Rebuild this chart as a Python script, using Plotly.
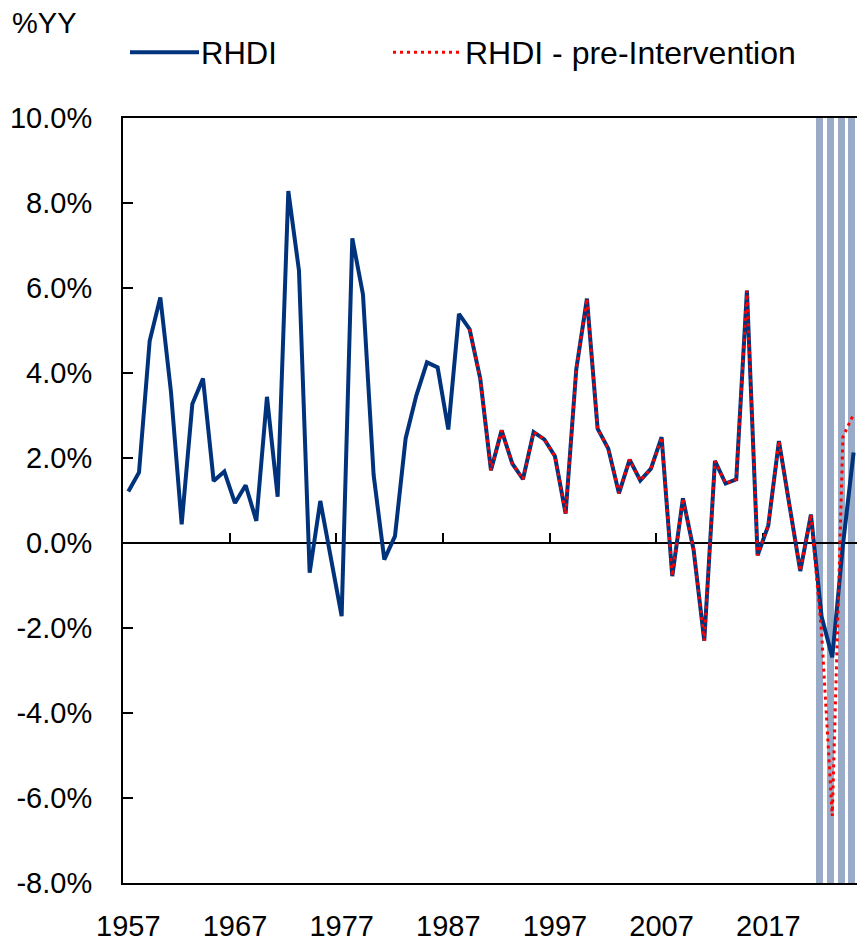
import plotly.graph_objects as go

# ── Data ─────────────────────────────────────────────────────────────────────
years = list(range(1957, 2026))
rhdi = [
    1.21, 1.66, 4.75, 5.78, 3.55, 0.44, 3.27, 3.87, 1.46, 1.68,   # 1957-1966
    0.94, 1.36, 0.52, 3.44, 1.09, 8.28, 6.41, -0.70, 0.99, -0.35,  # 1967-1976
    -1.72, 7.17, 5.85, 1.60, -0.39, 0.16, 2.46, 3.47, 4.25, 4.13,  # 1977-1986
    2.67, 5.39, 5.03, 3.86, 1.71, 2.65, 1.87, 1.50, 2.61, 2.44,    # 1987-1996
    2.04, 0.69, 4.09, 5.75, 2.69, 2.22, 1.17, 1.96, 1.47, 1.75,    # 1997-2006
    2.49, -0.78, 1.05, -0.16, -2.30, 1.93, 1.40, 1.50, 5.94, -0.29,  # 2007-2016
    0.41, 2.40, 0.85, -0.66, 0.67, -1.73, -2.69, -0.05, 2.13,      # 2017-2025
]
rhdi_pre = [None] * 32 + rhdi[32:65] + [-2.10, -6.42, 2.50, 3.03]
shaded_years = [2022, 2023, 2024, 2025]
tick_years = [1957, 1967, 1977, 1987, 1997, 2007, 2017]
y_ticks = [10, 8, 6, 4, 2, 0, -2, -4, -6, -8]

# ── Style ────────────────────────────────────────────────────────────────────
NAVY = "#00337C"
RED = "#FF0000"
SHADE = "#9AABC8"
FONT = "Liberation Sans, Arial, sans-serif"
W, H = 857, 942
L, R, T, B = 123, 0, 118, 57
Y_MIN, Y_MAX = -8, 10
X_RANGE = [1956.5, 2025.32]


def px_x(px):
    # page pixel -> paper x
    return (px - L) / (W - L - R)


def px_y(py):
    return (H - B - py) / (H - T - B)


fig = go.Figure()
fig.add_trace(go.Bar(
    x=shaded_years, y=[Y_MAX - Y_MIN] * len(shaded_years), base=Y_MIN,
    width=0.66, offset=-0.5, marker=dict(color=SHADE, line_width=0),
    hoverinfo="skip", showlegend=False,
))
# zero line, drawn over the shading but under the series
fig.add_trace(go.Scatter(
    x=X_RANGE, y=[0, 0], mode="lines", line=dict(color="black", width=2),
    xaxis="x2", hoverinfo="skip", showlegend=False,
))
fig.add_trace(go.Scatter(
    x=years, y=rhdi, mode="lines", name="RHDI",
    line=dict(color=NAVY, width=4), xaxis="x2", showlegend=False,
))
fig.add_trace(go.Scatter(
    x=years, y=rhdi_pre, mode="lines", name="RHDI - pre-Intervention",
    line=dict(color=RED, width=3, dash="3px,4px"), xaxis="x2",
    connectgaps=False, showlegend=False,
))

# ── Hand-made legend ─────────────────────────────────────────────────────────
fig.add_shape(type="line", xref="paper", yref="paper",
              x0=px_x(130), x1=px_x(199), y0=px_y(52), y1=px_y(52),
              line=dict(color=NAVY, width=4))
fig.add_shape(type="line", xref="paper", yref="paper",
              x0=px_x(393), x1=px_x(461), y0=px_y(52), y1=px_y(52),
              line=dict(color=RED, width=3, dash="3px,4px"))
fig.add_annotation(text="RHDI", xref="paper", yref="paper", x=px_x(199), y=px_y(53),
                   xanchor="left", yanchor="middle", showarrow=False,
                   font=dict(size=31, color="black", family=FONT))
fig.add_annotation(text="RHDI - pre-Intervention", xref="paper", yref="paper",
                   x=px_x(463), y=px_y(53), xanchor="left", yanchor="middle",
                   showarrow=False, font=dict(size=32, color="black", family=FONT))

fig.update_layout(
    width=W, height=H,
    margin=dict(l=L, r=R, t=T, b=B),
    paper_bgcolor="white", plot_bgcolor="white",
    font=dict(family=FONT, size=29, color="black"),
    bargap=0,
    title=dict(text="%YY", xref="container", yref="container",
               x=12 / W, y=1 - 23 / H,
               xanchor="left", yanchor="middle",
               font=dict(size=29, color="black", family=FONT)),
    xaxis=dict(
        range=X_RANGE, tickvals=tick_years, ticktext=[str(y) for y in tick_years],
        ticks="", showgrid=False, zeroline=False,
        showline=True, linecolor="black", linewidth=2, mirror=True,
        ticklabelstandoff=16,
    ),
    xaxis2=dict(
        range=X_RANGE, overlaying="x", anchor="free",
        position=(0 - Y_MIN) / (Y_MAX - Y_MIN),
        tickvals=[y - 0.5 for y in tick_years[1:]], ticks="inside",
        ticklen=10, tickwidth=2, tickcolor="black", showticklabels=False,
        showgrid=False, zeroline=False, showline=False, layer="below traces",
    ),
    yaxis=dict(
        range=[Y_MIN, Y_MAX], tickvals=y_ticks,
        ticktext=[f"{v:.1f}%" for v in y_ticks],
        ticks="inside", ticklen=10, tickwidth=2, tickcolor="black",
        showgrid=False, zeroline=False,
        showline=True, linecolor="black", linewidth=2,
        ticklabelstandoff=23,
    ),
)

# drop the default page margin so the figure sits at the window's corner
fig.write_html("out.html",
               config={"displayModeBar": False},
               post_script="document.body.style.margin='0';"
                           "document.body.style.overflow='hidden';")
